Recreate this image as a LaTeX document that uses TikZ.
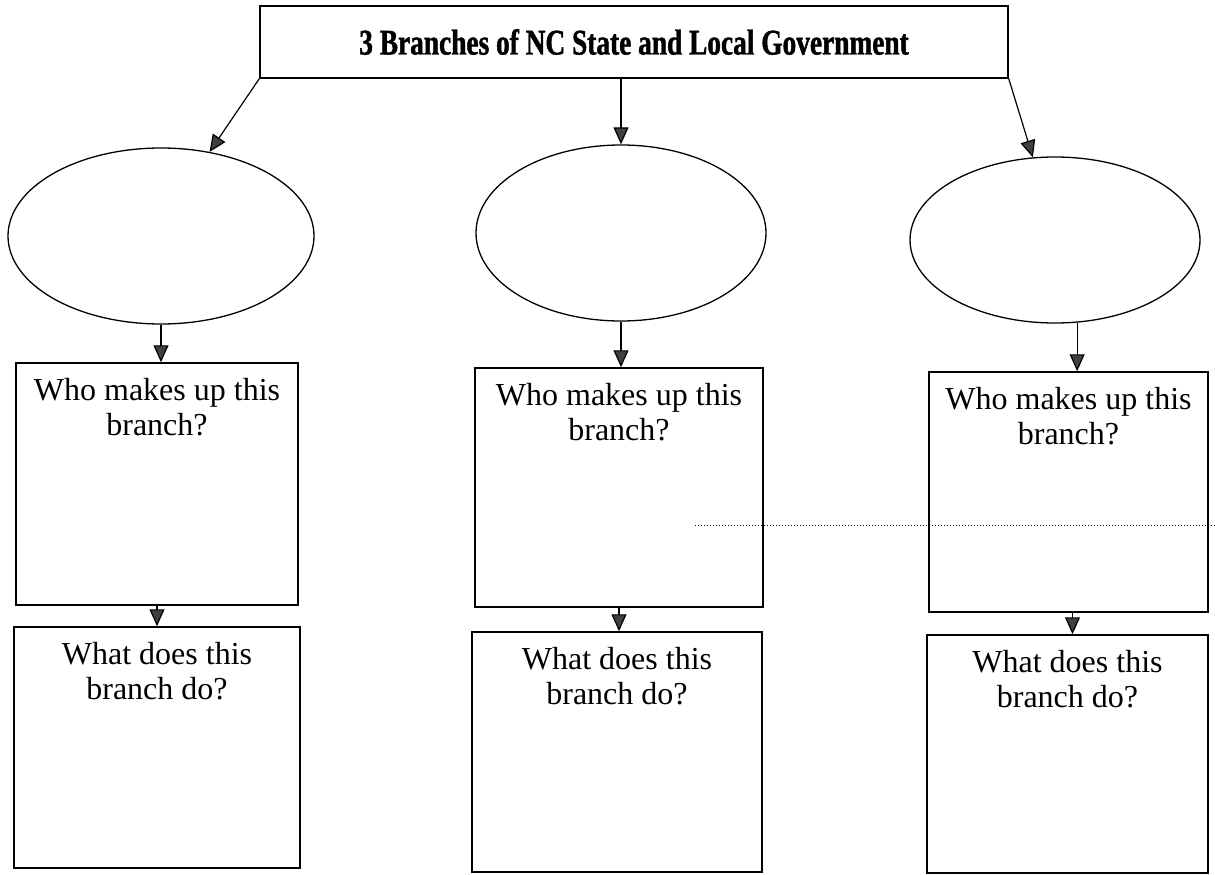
\documentclass[tikz,border=0pt]{standalone}
\usepackage{fontspec}
\setmainfont{Liberation Serif}
\newfontfamily\titlefont[FakeStretch=0.76,FakeBold=1.2]{Liberation Serif}
\usetikzlibrary{
  shapes.geometric,
  calc,
  positioning,
  arrows.meta
}

\tikzset{
  branchbox/.style={draw,rectangle,line width=1.5pt,inner sep=0pt},
  branch/.style={draw,ellipse,line width=1.3pt,inner sep=0pt},
  asktext/.style={align=center,inner sep=0pt,font=\fontsize{32}{35}\selectfont},
  link/.style={line width=1.2pt,-{Triangle[width=15pt,length=17pt,fill=black!75]}}
}

\begin{document}
\begin{tikzpicture}[x=1pt,y=-1pt]
  \useasboundingbox (0,0) rectangle (1215,875);
  \node[branchbox,minimum width=748pt,minimum height=72pt,
    font=\titlefont\bfseries\fontsize{36}{40}\selectfont] (title) at (634,42)
    {3 Branches of NC State and Local Government};
  \node[branch,minimum width=306pt,minimum height=176pt] (e1) at (161,236) {};
  \node[branch,minimum width=290pt,minimum height=176pt] (e2) at (621,233) {};
  \node[branch,minimum width=290pt,minimum height=166pt] (e3) at (1055,240) {};
  \node[branchbox,minimum width=282pt,minimum height=242pt] (who1) at (157,484) {};
  \node[branchbox,minimum width=288pt,minimum height=239pt] (who2) at (619,487.5) {};
  \node[branchbox,minimum width=279pt,minimum height=240pt] (who3) at (1068.5,492) {};
  \node[branchbox,minimum width=286pt,minimum height=241pt] (do1) at (157,747.5) {};
  \node[branchbox,minimum width=290pt,minimum height=240pt] (do2) at (617,752) {};
  \node[branchbox,minimum width=281pt,minimum height=238pt] (do3) at (1067.5,754) {};
  \foreach \i in {1,2,3}{
    \node[asktext,anchor=north] (who\i t) at ([yshift=-16pt]who\i.north) {Who makes up this\\branch?};
    \node[asktext,anchor=north] (do\i t) at ([yshift=-16pt]do\i.north) {What does this\\branch do?};
  }
  \draw[link] (title.south west) -- (e1.60);
  \draw[link] (title.south -| e2.north) -- (e2.north);
  \draw[link] (title.south east) -- (e3.105);
  \draw[link] (e1.south) -- (e1.south |- who1.north);
  \draw[link] (e2.south) -- (e2.south |- who2.north);
  \draw[link] (e3.-75) -- (e3.-75 |- who3.north);
  \draw[link] (who1.south) -- (who1.south |- do1.north);
  \draw[link] (who2.south) -- (who2.south |- do2.north);
  \draw[link] ([xshift=4pt]who3.south) -- ([xshift=4pt]who3.south |- do3.north);
  \draw[dotted,line width=1pt] (695,525) -- (1215,525);
\end{tikzpicture}
\end{document}
